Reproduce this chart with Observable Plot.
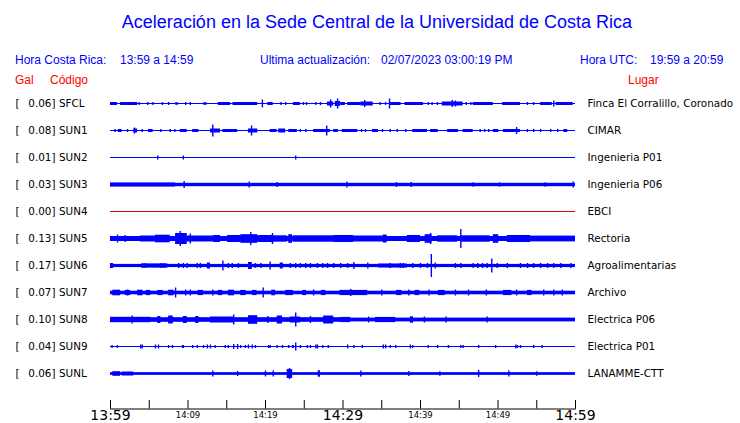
<!DOCTYPE html>
<html><head><meta charset="utf-8">
<script src="https://cdn.jsdelivr.net/npm/d3@7"></script>
<script src="https://cdn.jsdelivr.net/npm/@observablehq/plot@0.6"></script>
<style>
body{margin:0;background:#fff;}
#wrap{position:relative;width:740px;height:423px;overflow:hidden;background:#fff;}
#wrap svg{position:absolute;left:0;top:0;}
.hdr{position:absolute;font-family:"Liberation Sans",Arial,sans-serif;white-space:pre;line-height:1;}
</style></head><body>
<div id="wrap"></div>
<script>
// ---- header texts ----
const titleText = "Aceleración en la Sede Central de la Universidad de Costa Rica";
const headerItems = [["Hora Costa Rica:", 15], ["13:59 a 14:59", 120], ["Ultima actualización:", 260], ["02/07/2023 03:00:19 PM", 381], ["Hora UTC:", 580], ["19:59 a 20:59", 650]];
const columnHeads = [["Gal", 15], ["Código", 50], ["Lugar", 628]];

// ---- stations ----
const codes  = ["SFCL","SUN1","SUN2","SUN3","SUN4","SUN5","SUN6","SUN7","SUN8","SUN9","SUNL"];
const places = ["Finca El Corralillo, Coronado","CIMAR","Ingenieria P01","Ingenieria P06","EBCI","Rectoria","Agroalimentarias","Archivo","Electrica P06","Electrica P01","LANAMME-CTT"];
const gal    = [0.06,0.08,0.01,0.03,0.00,0.13,0.17,0.07,0.10,0.04,0.06];
// background half-amplitude of each trace (counts; 27 counts = spacing between traces)
const baseAmp = [0.5,0.5,0.5,1.7,0.5,2.5,1.6,1.8,1.9,0.5,1.35];

// ---- time axis (minutes after 13:59) ----
const timeDomain = [0, 60];
const tickMinutes = [0,5,10,15,20,25,30,35,40,45,50,55,60];
const majorTicks = [[0,"13:59"],[30,"14:29"],[60,"14:59"]];
const minorTicks = [[10,"14:09"],[20,"14:19"],[40,"14:39"],[50,"14:49"]];

// ---- bursts [start min, end min, half-amplitude] ----
const burstsByStation = [
 // SFCL
 [[0,0.9,1.5],[1.3,1.9,1.5],[1.9,3.5,1.5],[8.4,8.8,1.2],[12,12.5,1.2],[13.9,15.5,1.5],[15.8,19,1.5],[20.3,21,1.5],[23.6,24.5,1.5],[28,28.8,2],[29,29.7,2.5],[29.7,30.3,1.5],[30.6,32.3,1.5],[32.3,33.9,2],[36.1,37.5,1.5],[38,40.4,1.5],[42.8,45.5,2],[46.8,49.4,1.5],[50.6,52.9,1.5],[55.5,57,1.5],[57.5,59.7,1.5]],
 // SUN1
 [[1.0,1.5,1.5],[3.0,3.5,2],[4.9,5.5,1.5],[9.0,9.9,1.5],[10.6,11.4,1.5],[12.9,14.2,2],[14.5,16.4,1.5],[17.8,19.0,2],[20.6,21.5,1.5],[21.7,22.6,2],[23.0,24.1,1.5],[26.2,28.4,1.5],[28.8,29.4,1.5],[29.9,31.9,1.5],[33.8,34.6,1.5],[39.0,40.9,1.5],[41.3,42.3,1.5],[43.5,44.9,1.5],[45.5,46.8,1.5],[49.4,50.1,1.5],[50.7,52.9,1.5],[58.5,59.0,1.5]],
 // SUN2
 [],
 // SUN3
 [[0,8.4,2]],
 // SUN4
 [],
 // SUN5
 [[3.9,6.7,3],[5.8,7.7,3.8],[8.4,9.9,5.5],[9.9,13.3,3],[13.3,14.2,3.5],[15.1,16.8,3.5],[16.8,19.0,4.3],[19.0,21.0,3.5],[21.0,22.8,3.2],[23.0,23.5,4.3],[23.6,28.8,3.2],[28.8,31.4,3.5],[31.4,35.2,3],[35.2,35.7,4],[38.3,40.0,3.5],[40.6,41.5,4.3],[42.2,44.8,3.2],[45.2,49.0,3.2],[49.4,50.1,4.3],[51.2,54.2,3.5],[54.2,60,2.9]],
 // SUN6
 [[0,0.4,2.5],[4.1,7.4,2.1],[12.5,12.9,3],[17.8,18.3,3.5],[21.9,22.3,3],[34.6,38.3,2]],
 // SUN7
 [[0.3,1.3,2.8],[1.9,2.6,2.6],[3.5,4.2,2.8],[4.6,5.2,2.6],[6.1,6.8,2.6],[7.5,8.2,2.8],[11.3,12,2.6],[13.9,14.5,2.6],[15.2,16,2.8],[16.8,17.5,2.6],[18.3,18.9,2.6],[20.8,21.3,2.8],[22.6,23.6,2.6],[24.8,25.3,2.6],[27.2,27.8,2.6],[29.6,33.2,2.6],[36.9,37.6,2.6],[39.3,39.9,2.6],[42.3,43.2,2.6],[50.7,51.8,2.6],[53.8,54.4,2.6]],
 // SUN8
 [[0,29.7,2.2],[0,5.2,2.7],[6.1,6.5,3.5],[7.5,8.1,4],[9.4,9.9,3.5],[11,11.4,3.5],[12.9,15.9,3],[17.8,19,4.3],[21.5,22.2,4],[23.2,24.5,3],[27.5,28.8,4],[29.7,31,2.6],[34.2,36.8,2.6],[38.7,39.1,3.2]],
 // SUN9
 [],
 // SUNL
 [[0.3,1.3,2.3],[1.5,3,2],[22.8,23.5,4.5],[26.8,27.1,3.2]]
];

// ---- spikes [minute, half-amplitude] ----
const spikesByStation = [
 // SFCL
 [[3.7,1.5],[4.8,1.5],[5.5,1.5],[6.7,1.5],[7.5,1.5],[9.7,1.5],[10.3,1.5],[19.6,4],[22,1.5],[22.6,1.5],[24.9,1.5],[25.3,1.5],[26.5,1.5],[27.1,1.5],[28.4,4],[29.3,5],[32.8,3.5],[34.8,1.5],[35.5,1.5],[36,5],[41,1.5],[41.5,1.5],[42.2,1.5],[44.1,3.5],[44.5,3],[45.9,1.5],[46.5,1.5],[53.8,1.5],[54.6,1.5],[57.2,3]],
 // SUN1
 [[0.6,1.5],[2.2,1.5],[3.1,3],[4.1,1.5],[6.5,1.5],[7.7,1.5],[8.3,1.5],[13.2,6],[18.2,5],[24.5,1.5],[25.2,1.5],[27.9,5],[32.4,1.5],[32.9,1.5],[35.1,1.5],[36.1,1.5],[37,1.5],[38.1,1.5],[47.7,1.5],[48.3,1.5],[48.8,1.5],[52.4,3.5],[53.8,1.5],[54.6,1.5],[55.5,1.5],[56.8,1.5],[57.7,1.5]],
 // SUN2
 [[6.1,2],[9.4,2],[23.9,2]],
 // SUN3
 [[9.5,3.5],[17.9,3],[21.5,2.5],[30.5,3],[36.9,2.5],[38.8,2.5],[46.8,2.2],[50.2,2.2],[56.1,2.2],[59.7,3]],
 // SUN4
 [],
 // SUN5
 [[0.9,4],[1.9,3.5],[9.0,7.5],[10.3,5],[18.1,6.5],[20.9,5.5],[41.3,5.5],[45.2,9.5]],
 // SUN6
 [[4.1,2.5],[4.5,2.5],[6.5,2.5],[6.9,2.5],[8.8,2.5],[9.4,2.5],[9.9,2.5],[11.2,2.5],[11.6,2.5],[14.5,5],[15.2,2.5],[15.7,2.5],[16.5,2.5],[18.7,2.5],[19.4,2.5],[20.6,4],[23.2,2.5],[23.9,2.5],[24.5,2.5],[25.2,2.5],[25.8,2.5],[26.7,2.5],[27.4,2.5],[28,2.5],[28.8,2.5],[29.7,2.5],[30.6,2.5],[31.4,3.5],[33.2,3],[36.1,2.5],[37.4,2.5],[37.8,2.5],[39,2.5],[40,2.5],[40.9,2.5],[41.4,11.5],[41.9,3],[44.5,2.5],[45.2,2.5],[46.8,2.5],[47.4,2.5],[48,2.5],[48.6,2.5],[49.2,7],[49.9,2.5],[51.2,2.5],[52.9,2.5],[53.8,2.5],[54.6,2.5],[55.5,2.5],[56.4,2.5],[57.2,2.5],[58.1,2.5],[59.4,2.5]],
 // SUN7
 [[2.2,3],[8.4,5],[9.7,3],[10.3,3],[13.2,3],[19.7,5],[26.2,3],[31,3.5],[35,3],[38.5,3],[41.1,3],[44.5,3],[46.2,3],[48.5,3],[52.4,3],[55.9,3],[57.2,3],[58.3,3]],
 // SUN8
 [[15.9,5],[23.9,7],[2.8,4],[20.3,3.5],[25.8,3.5],[33.3,3],[40.5,3],[43.3,3],[48.6,3]],
 // SUN9
 [[0.2,1.5],[0.9,1.5],[3.9,2],[4.1,2],[5.8,2],[6.2,2],[7.5,1.5],[8,1.5],[9.3,1.5],[9.4,1.5],[10.6,1.5],[11.2,1.5],[12,1.5],[12.5,2],[12.9,2],[13.5,1.5],[14.8,1.5],[15.2,1.5],[15.9,2.5],[16.4,2.5],[16.8,1.5],[17.4,1.5],[17.8,2],[18.3,2],[18.7,1.5],[20.4,1.5],[20.6,1.5],[21.5,1.5],[22.2,1.5],[23,1.5],[23.5,1.5],[23.6,1.5],[23.9,4],[24.5,1.5],[25.4,1.5],[25.8,1.5],[26.5,2],[26.7,2],[27.4,1.5],[28.1,1.5],[30.6,2],[31.4,1.5],[32.5,1.5],[35.2,2],[35.5,2],[36.1,1.5],[36.8,1.5],[38.7,2],[39,1.5],[41,1.5],[42.2,1.5],[43.6,1.5],[45.2,1.5],[45.5,1.5],[47.5,1.5],[49.7,1.5],[52.3,2],[52.5,1.5],[52.9,1.5],[54.6,1.5],[55.7,1.5]],
 // SUNL
 [[13.2,3],[16.4,2.5],[20,3],[21,3],[23.1,5.5],[32.3,3],[38.5,2.5],[47.5,3.5],[51.4,3],[42.5,2.2],[55,2.2]]
];

const ROW = 27;
const BLUE = "#0000ff";
const rows = codes.map((c, i) => ({i, code: c, place: places[i], gal: gal[i], base: baseAmp[i], color: c === "SUN4" ? "#e00000" : BLUE}));
const burstData = burstsByStation.flatMap((arr, i) => arr.map(([t0, t1, a]) => ({i, t0, t1, a})));
const spikeData = spikesByStation.flatMap((arr, i) => arr.map(([t, a]) => ({i, t, a})));

const lab = {fontSize: 10.4, fill: "#000", fontFamily: "DejaVu Sans"};

const chart = Plot.plot({
  width: 740, height: 423,
  marginLeft: 110, marginRight: 165, marginTop: 0, marginBottom: 14.5,
  x: {domain: timeDomain, axis: null},
  y: {domain: [0, 10], range: [103.5, 373.5], axis: null},
  color: {type: "identity"},
  style: {fontFamily: "DejaVu Sans", background: "transparent", overflow: "visible"},
  marks: [
    Plot.rect(rows, {x1: () => timeDomain[0], x2: () => timeDomain[1], y1: d => d.i - d.base / ROW, y2: d => d.i + d.base / ROW, fill: d => d.color}),
    Plot.rect(burstData, {x1: "t0", x2: "t1", y1: d => d.i - d.a / ROW, y2: d => d.i + d.a / ROW, fill: BLUE}),
    Plot.ruleX(spikeData, {x: "t", y1: d => d.i - d.a / ROW, y2: d => d.i + d.a / ROW, stroke: BLUE, strokeWidth: 1.4}),
    Plot.text(rows, {y: "i", text: () => "[", frameAnchor: "left", dx: -95, textAnchor: "start", ...lab}),
    Plot.text(rows, {y: "i", text: d => d.gal.toFixed(2) + "]", frameAnchor: "left", dx: -55, textAnchor: "end", ...lab}),
    Plot.text(rows, {y: "i", text: "code", frameAnchor: "left", dx: -51.5, textAnchor: "start", ...lab}),
    Plot.text(rows, {y: "i", text: "place", frameAnchor: "right", dx: 12, textAnchor: "start", ...lab}),
    Plot.ruleX(tickMinutes, {x: d => d, insetTop: 400, stroke: "#000"}),
    Plot.frame({anchor: "bottom", stroke: "#000"}),
    Plot.text(majorTicks, {x: d => d[0], text: d => d[1], frameAnchor: "bottom", lineAnchor: "top", dy: 1, fontSize: 14, fill: "#000"}),
    Plot.text(minorTicks, {x: d => d[0], text: d => d[1], frameAnchor: "bottom", lineAnchor: "top", dy: 3, fontSize: 8.5, fill: "#000"})
  ]
});

const wrap = document.getElementById("wrap");
wrap.appendChild(chart);

function addText(txt, left, top, size, color, extra) {
  const d = document.createElement("div");
  d.className = "hdr";
  d.textContent = txt;
  d.style.left = left + "px";
  d.style.top = top + "px";
  d.style.fontSize = size + "px";
  d.style.color = color;
  if (extra) Object.assign(d.style, extra);
  wrap.appendChild(d);
}
addText(titleText, 0, 13, 18, BLUE, {width: "754px", textAlign: "center"});
headerItems.forEach(([t, x]) => addText(t, x, 54, 12, BLUE));
columnHeads.forEach(([t, x]) => addText(t, x, 74, 12, "#ff0000"));
</script>
</body></html>
